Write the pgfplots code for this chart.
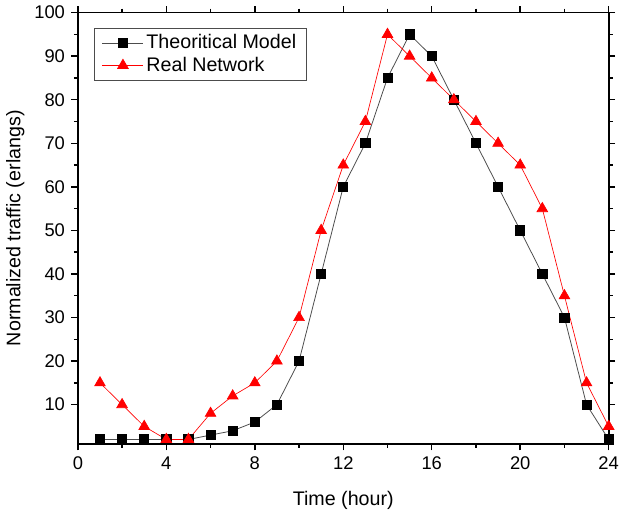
\documentclass[border=0pt]{standalone}
\usepackage{pgfplots}
\pgfplotsset{compat=1.18}
\usepackage{fontspec}
\setmainfont{Liberation Sans}

\begin{document}
\fontsize{14}{16}\selectfont
\begin{tikzpicture}
\begin{axis}[
    scale only axis,
    width=405pt, height=329pt,
    xmin=0, xmax=24, ymin=1, ymax=100,
    xtick={0,4,...,24}, ytick={10,20,...,100},
    minor x tick num=1, minor y tick num=1,
    tick align=outside,
    major tick length=5pt, minor tick length=3pt,
    axis line style={line width=1.3pt},
    every tick/.style={black, line width=1.1pt},
    /pgf/number format/assume math mode=true,
    ticklabel style={font=\fontsize{14}{16}\selectfont},
    label style={font=\fontsize{15}{17}\selectfont},
    xlabel={Time (hour)},
    ylabel={Normalized traffic (erlangs)},
    xlabel style={yshift=-7pt},
    ylabel style={yshift=-2pt},
    legend style={at={(0.03,0.965)}, anchor=north west, draw=black!70, line width=0.6pt, font=\fontsize{15}{17}\selectfont, inner xsep=6pt, inner ysep=3pt, row sep=0pt},
    legend cell align=left,
    legend image code/.code={\draw[mark repeat=2,mark phase=2] plot coordinates {(0cm,0cm) (0.55cm,0cm) (1.1cm,0cm)};},
]
\addplot[black!70, line width=0.6pt, mark=square*, mark size=3.5pt, mark options={black, fill=black}] coordinates {
(1,2) (2,2) (3,2) (4,2) (5,2) (6,3) (7,4) (8,6) (9,10) (10,20) (11,40) (12,60)
(13,70) (14,85) (15,95) (16,90) (17,80) (18,70) (19,60) (20,50) (21,40) (22,30) (23,10) (24,2)};
\addlegendentry{Theoritical Model}
\addplot[red, line width=0.5pt, mark=triangle*, mark size=4.7pt, mark options={red, fill=red}] coordinates {
(1,15) (2,10) (3,5) (4,2) (5,2) (6,8) (7,12) (8,15) (9,20) (10,30) (11,50) (12,65)
(13,75) (14,95) (15,90) (16,85) (17,80) (18,75) (19,70) (20,65) (21,55) (22,35) (23,15) (24,5)};
\addlegendentry{Real Network}
\end{axis}
\end{tikzpicture}
\end{document}
